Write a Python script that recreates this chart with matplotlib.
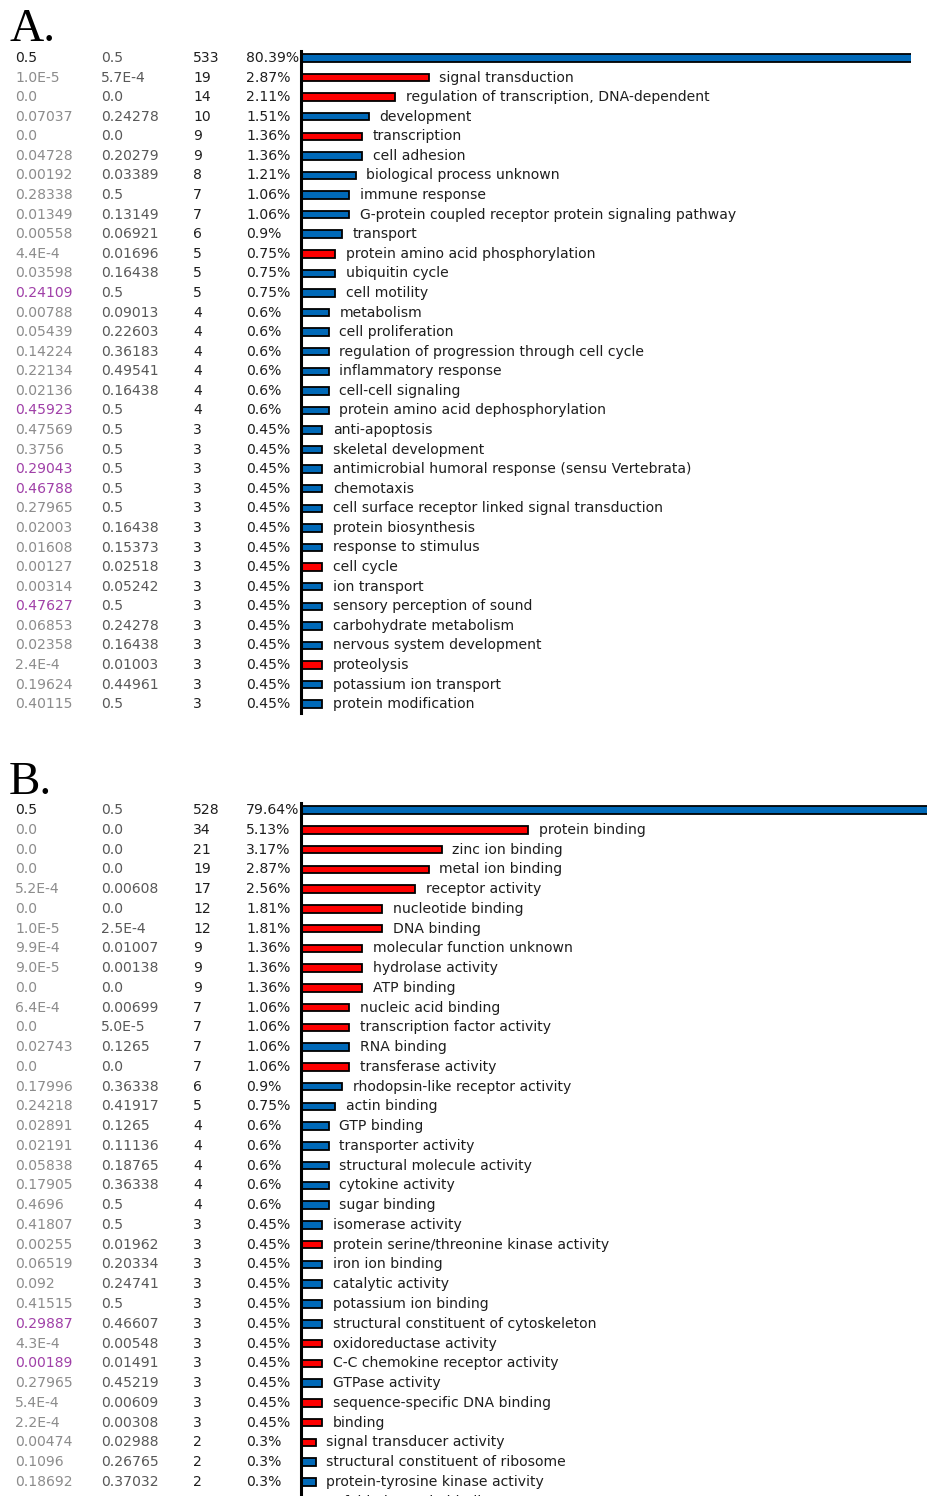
import matplotlib
matplotlib.use("Agg")
import matplotlib.pyplot as plt
from matplotlib import transforms

# ---------------- data ----------------
# Panel A
a_pval = ["0.5", "1.0E-5", "0.0", "0.07037", "0.0", "0.04728", "0.00192", "0.28338", "0.01349",
          "0.00558", "4.4E-4", "0.03598", "0.24109", "0.00788", "0.05439", "0.14224", "0.22134",
          "0.02136", "0.45923", "0.47569", "0.3756", "0.29043", "0.46788", "0.27965", "0.02003",
          "0.01608", "0.00127", "0.00314", "0.47627", "0.06853", "0.02358", "2.4E-4", "0.19624",
          "0.40115"]
a_corr = ["0.5", "5.7E-4", "0.0", "0.24278", "0.0", "0.20279", "0.03389", "0.5", "0.13149",
          "0.06921", "0.01696", "0.16438", "0.5", "0.09013", "0.22603", "0.36183", "0.49541",
          "0.16438", "0.5", "0.5", "0.5", "0.5", "0.5", "0.5", "0.16438",
          "0.15373", "0.02518", "0.05242", "0.5", "0.24278", "0.16438", "0.01003", "0.44961",
          "0.5"]
a_count = [533, 19, 14, 10, 9, 9, 8, 7, 7, 6, 5, 5, 5, 4, 4, 4, 4, 4, 4, 3, 3, 3, 3, 3, 3, 3, 3, 3,
           3, 3, 3, 3, 3, 3]
a_pct = [80.39, 2.87, 2.11, 1.51, 1.36, 1.36, 1.21, 1.06, 1.06, 0.9, 0.75, 0.75, 0.75, 0.6, 0.6,
         0.6, 0.6, 0.6, 0.6, 0.45, 0.45, 0.45, 0.45, 0.45, 0.45, 0.45, 0.45, 0.45, 0.45, 0.45,
         0.45, 0.45, 0.45, 0.45]
a_sig = ["b", "r", "r", "b", "r", "b", "b", "b", "b", "b", "r", "b", "b", "b", "b", "b", "b", "b",
         "b", "b", "b", "b", "b", "b", "b", "b", "r", "b", "b", "b", "b", "r", "b", "b"]
a_flag = [0, 0, 0, 0, 0, 0, 0, 0, 0, 0, 0, 0, 1, 0, 0, 0, 0, 0, 1, 0, 0, 1, 1, 0, 0, 0, 0, 0, 1, 0,
          0, 0, 0, 0]
a_terms = ["", "signal transduction", "regulation of transcription, DNA-dependent", "development",
           "transcription", "cell adhesion", "biological process unknown", "immune response",
           "G-protein coupled receptor protein signaling pathway", "transport",
           "protein amino acid phosphorylation", "ubiquitin cycle", "cell motility", "metabolism",
           "cell proliferation", "regulation of progression through cell cycle",
           "inflammatory response", "cell-cell signaling", "protein amino acid dephosphorylation",
           "anti-apoptosis", "skeletal development",
           "antimicrobial humoral response (sensu Vertebrata)", "chemotaxis",
           "cell surface receptor linked signal transduction", "protein biosynthesis",
           "response to stimulus", "cell cycle", "ion transport", "sensory perception of sound",
           "carbohydrate metabolism", "nervous system development", "proteolysis",
           "potassium ion transport", "protein modification"]

# Panel B
b_pval = ["0.5", "0.0", "0.0", "0.0", "5.2E-4", "0.0", "1.0E-5", "9.9E-4", "9.0E-5", "0.0",
          "6.4E-4", "0.0", "0.02743", "0.0", "0.17996", "0.24218", "0.02891", "0.02191",
          "0.05838", "0.17905", "0.4696", "0.41807", "0.00255", "0.06519", "0.092", "0.41515",
          "0.29887", "4.3E-4", "0.00189", "0.27965", "5.4E-4", "2.2E-4", "0.00474", "0.1096",
          "0.18692", "0.11082"]
b_corr = ["0.5", "0.0", "0.0", "0.0", "0.00608", "0.0", "2.5E-4", "0.01007", "0.00138", "0.0",
          "0.00699", "5.0E-5", "0.1265", "0.0", "0.36338", "0.41917", "0.1265", "0.11136",
          "0.18765", "0.36338", "0.5", "0.5", "0.01962", "0.20334", "0.24741", "0.5",
          "0.46607", "0.00548", "0.01491", "0.45219", "0.00609", "0.00308", "0.02988", "0.26765",
          "0.37032", "0.27534"]
b_count = [528, 34, 21, 19, 17, 12, 12, 9, 9, 9, 7, 7, 7, 7, 6, 5, 4, 4, 4, 4, 4, 3, 3, 3, 3, 3, 3,
           3, 3, 3, 3, 3, 2, 2, 2, 2]
b_pct = [79.64, 5.13, 3.17, 2.87, 2.56, 1.81, 1.81, 1.36, 1.36, 1.36, 1.06, 1.06, 1.06, 1.06, 0.9,
         0.75, 0.6, 0.6, 0.6, 0.6, 0.6, 0.45, 0.45, 0.45, 0.45, 0.45, 0.45, 0.45, 0.45, 0.45, 0.45,
         0.45, 0.3, 0.3, 0.3, 0.3]
b_sig = ["b", "r", "r", "r", "r", "r", "r", "r", "r", "r", "r", "r", "b", "r", "b", "b", "b", "b",
         "b", "b", "b", "b", "r", "b", "b", "b", "b", "r", "r", "b", "r", "r", "r", "b", "b", "b"]
b_flag = [0, 0, 0, 0, 0, 0, 0, 0, 0, 0, 0, 0, 0, 0, 0, 0, 0, 0, 0, 0, 0, 0, 0, 0, 0, 0, 1, 0, 1, 0,
          0, 0, 0, 0, 0, 0]
b_terms = ["", "protein binding", "zinc ion binding", "metal ion binding", "receptor activity",
           "nucleotide binding", "DNA binding", "molecular function unknown", "hydrolase activity",
           "ATP binding", "nucleic acid binding", "transcription factor activity", "RNA binding",
           "transferase activity", "rhodopsin-like receptor activity", "actin binding",
           "GTP binding", "transporter activity", "structural molecule activity",
           "cytokine activity", "sugar binding", "isomerase activity",
           "protein serine/threonine kinase activity", "iron ion binding", "catalytic activity",
           "potassium ion binding", "structural constituent of cytoskeleton",
           "oxidoreductase activity", "C-C chemokine receptor activity", "GTPase activity",
           "sequence-specific DNA binding", "binding", "signal transducer activity",
           "structural constituent of ribosome", "protein-tyrosine kinase activity",
           "unfolded protein binding"]

# ---------------- style ----------------
W, H = 928, 1496
BLUE = "#0069b8"
RED = "#ff0000"
C_P = "#8c8c8c"
C_PURPLE = "#a040a8"
C_CORR = "#585858"
C_DARK = "#1e1e1e"
FONT = "DejaVu Sans"
FS = 10.1
PX_PER_PCT = 44.0

fig = plt.figure(figsize=(W / 100, H / 100), dpi=100)


def panel(letter, letter_base_y, row0_y, row_h, right_px, pval, corr, count, pct, sig, flag, terms):
    n = len(pval)
    left_px = 301
    top = row0_y - row_h / 2
    height = n * row_h
    ax = fig.add_axes([left_px / W, 1 - (top + height) / H, (right_px - left_px) / W, height / H])
    ax.set_xlim(0, (right_px - left_px) / PX_PER_PCT)
    ax.set_ylim(n - 0.5, -0.5)
    for s in ["top", "right", "bottom"]:
        ax.spines[s].set_visible(False)
    ax.spines["left"].set_linewidth(2.2)
    ax.spines["left"].set_color("black")
    ax.spines["left"].set_bounds(-0.35, min(n - 1 + 0.45, n - 0.5))
    ax.set_xticks([])
    ax.set_yticks([])
    ax.patch.set_alpha(0)

    ys = list(range(n))
    colors = [BLUE if s == "b" else RED for s in sig]
    ax.barh(ys, pct, height=0.38, color=colors, edgecolor="black", linewidth=1.3, left=0.03)

    tr = transforms.blended_transform_factory(fig.transFigure, ax.transData)
    cols_x = [15, 101, 193, 246]
    for i in range(n):
        c1 = C_DARK if i == 0 else (C_PURPLE if flag[i] else C_P)
        ax.text(cols_x[0] / W, i, pval[i], transform=tr, color=c1, fontsize=FS, family=FONT,
                va="center", ha="left", clip_on=False)
        ax.text(cols_x[1] / W, i, corr[i], transform=tr, color=C_CORR, fontsize=FS, family=FONT,
                va="center", ha="left", clip_on=False)
        ax.text(cols_x[2] / W, i, str(count[i]), transform=tr, color=C_DARK, fontsize=FS,
                family=FONT, va="center", ha="left", clip_on=False)
        ax.text(cols_x[3] / W, i, f"{pct[i]:g}%", transform=tr, color=C_DARK, fontsize=FS,
                family=FONT, va="center", ha="left", clip_on=False)
        if terms[i]:
            ax.annotate(terms[i], xy=(pct[i], i), xytext=(12 * 0.72, 0),
                        textcoords="offset points", color=C_DARK, fontsize=FS, family=FONT,
                        va="center", ha="left", annotation_clip=False)

    fig.text(9 / W, 1 - letter_base_y / H, letter, fontsize=34, family="Liberation Serif",
             color="black", va="baseline", ha="left")
    return ax


panel("A.", 41, 58, 19.58, 911, a_pval, a_corr, a_count, a_pct, a_sig, a_flag, a_terms)
panel("B.", 794, 810, 19.76, 928, b_pval, b_corr, b_count, b_pct, b_sig, b_flag, b_terms)

fig.savefig("out.png", dpi=100)
